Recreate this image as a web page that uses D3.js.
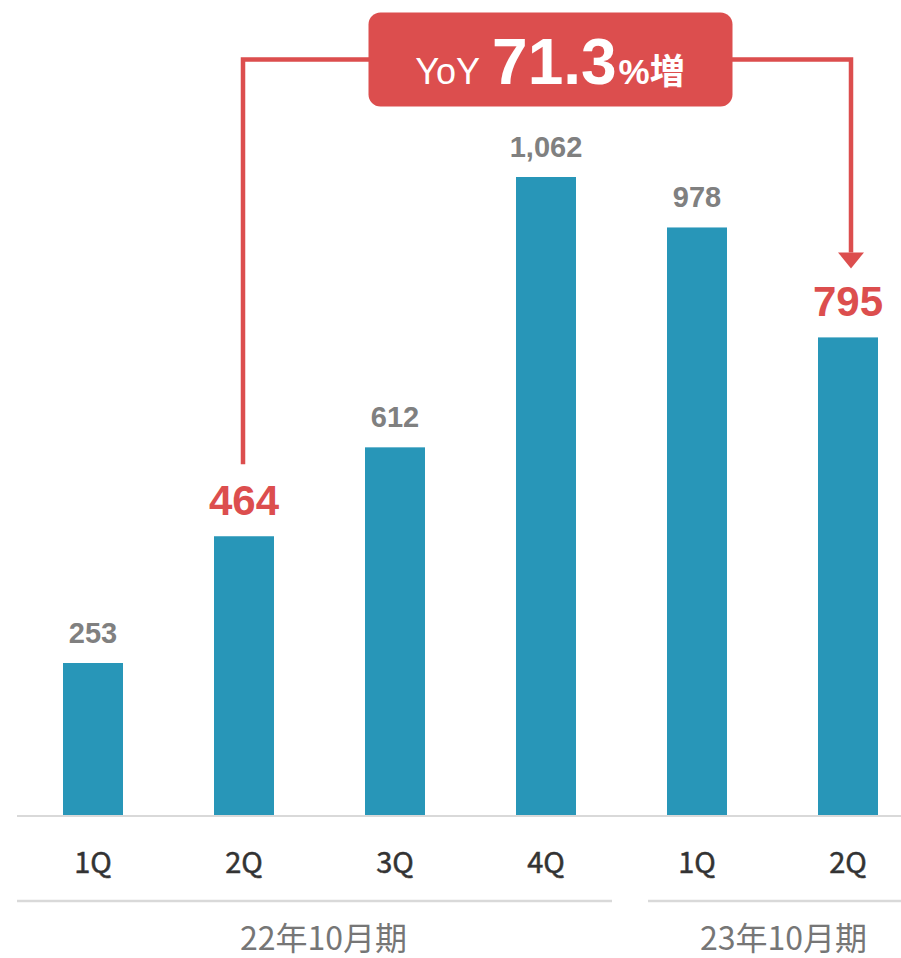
<!DOCTYPE html>
<html>
<head>
<meta charset="utf-8">
<script src="https://cdn.jsdelivr.net/npm/d3@7"></script>
<style>
  body { margin: 0; background: #fff; }
</style>
</head>
<body>
<script>
'use strict';

// chart data
const quarters = ["1Q", "2Q", "3Q", "4Q", "1Q", "2Q"];
const values = [253, 464, 612, 1062, 978, 795];
const highlighted = [1, 5]; // the two bars compared by the YoY badge
const periods = ["22年10月期", "23年10月期"];
const periodBars = [[0, 3], [4, 5]]; // first and last bar of each period
const yoyParts = ["YoY", "71.3", "%増"];

const m = {
  width: 901,
  height: 958,
  left: 17.5,
  right: 923.5,
  base: 815,
  top: 177
};

const barColor = "#2896b8";
const red = "#dc4e4e";
const gray = "#808080";

const svg = d3.select("body")
  .append("svg")
  .attr("width", m.width)
  .attr("height", m.height);

// scales
const x = d3.scaleBand()
  .domain(d3.range(values.length))
  .range([m.left, m.right])
  .paddingInner(1 - 60 / 151)
  .paddingOuter((1 - 60 / 151) / 2);

const y = d3.scaleLinear()
  .domain([0, d3.max(values)])
  .range([m.base, m.top]);

const cx = (i) => x(i) + x.bandwidth() / 2;

// bars
svg.selectAll(".bar")
  .data(values)
  .enter()
  .append("rect")
  .attr("class", "bar")
  .attr("x", (d, i) => x(i))
  .attr("y", (d) => y(d))
  .attr("width", x.bandwidth())
  .attr("height", (d) => y(0) - y(d))
  .attr("fill", barColor);

// baseline
svg.append("line")
  .attr("x1", 17).attr("x2", m.width)
  .attr("y1", m.base + 1).attr("y2", m.base + 1)
  .attr("stroke", "#d9d9d9")
  .attr("stroke-width", 2);

// value labels
svg.selectAll(".val")
  .data(values)
  .enter()
  .append("text")
  .attr("class", "val")
  .attr("x", (d, i) => cx(i))
  .attr("y", (d, i) => y(d) - (highlighted.includes(i) ? 21 : 20))
  .attr("text-anchor", "middle")
  .style("font-family", "'Liberation Sans', Arial, sans-serif")
  .style("font-weight", "bold")
  .style("font-size", (d, i) => highlighted.includes(i) ? "42px" : "29px")
  .attr("fill", (d, i) => highlighted.includes(i) ? red : gray)
  .text((d) => d3.format(",")(d));

// quarter labels
svg.selectAll(".cat")
  .data(quarters)
  .enter()
  .append("text")
  .attr("class", "cat")
  .attr("x", (d, i) => cx(i))
  .attr("y", 873)
  .attr("text-anchor", "middle")
  .style("font-family", "'Noto Sans CJK JP', 'Noto Sans', sans-serif")
  .style("font-size", "29px")
  .attr("fill", "#333")
  .attr("stroke", "#333")
  .attr("stroke-width", 0.5)
  .text((d) => d);

// period separators and labels
const periodLines = [[17, 612], [648, 901]];
periods.forEach((p, k) => {
  svg.append("line")
    .attr("x1", periodLines[k][0]).attr("x2", periodLines[k][1])
    .attr("y1", 901).attr("y2", 901)
    .attr("stroke", "#d9d9d9")
    .attr("stroke-width", 2.5);

  const mid = (cx(periodBars[k][0]) + cx(periodBars[k][1])) / 2;
  svg.append("text")
    .attr("x", k === 0 ? mid + 4 : mid + 11)
    .attr("y", 950)
    .attr("text-anchor", "middle")
    .style("font-family", "'Noto Sans CJK JP', 'Noto Sans', sans-serif")
    .style("font-size", "32px")
    .attr("fill", "#767676")
    .text(p);
});

// YoY connector
const lineY = 59.5;
const fromX = cx(highlighted[0]) - 1;
const toX = cx(highlighted[1]) + 3;
const fromY = y(values[highlighted[0]]) - 72;
const tipY = y(values[highlighted[1]]) - 69;

svg.append("path")
  .attr("d", `M${fromX},${fromY} V${lineY} H${toX} V${tipY - 16}`)
  .attr("fill", "none")
  .attr("stroke", red)
  .attr("stroke-width", 4.5);

svg.append("path")
  .attr("d", `M${toX - 13},${tipY - 16} L${toX + 13},${tipY - 16} L${toX},${tipY} Z`)
  .attr("fill", red);

// badge
svg.append("rect")
  .attr("x", 368.5).attr("y", 12.5)
  .attr("width", 364).attr("height", 94)
  .attr("rx", 12).attr("ry", 12)
  .attr("fill", red);

const badge = svg.append("text")
  .attr("x", 550)
  .attr("y", 84)
  .attr("text-anchor", "middle")
  .attr("fill", "#fff")
  .style("font-family", "'Liberation Sans', Arial, sans-serif");

badge.append("tspan")
  .style("font-size", "36px")
  .text(yoyParts[0]);

badge.append("tspan")
  .attr("dx", 12)
  .style("font-size", "64px")
  .style("font-weight", "bold")
  .text(yoyParts[1]);

badge.append("tspan")
  .attr("dx", 2)
  .style("font-size", "35px")
  .style("font-weight", "bold")
  .style("font-family", "'Liberation Sans', 'Noto Sans CJK JP', sans-serif")
  .text(yoyParts[2]);
</script>
</body>
</html>
